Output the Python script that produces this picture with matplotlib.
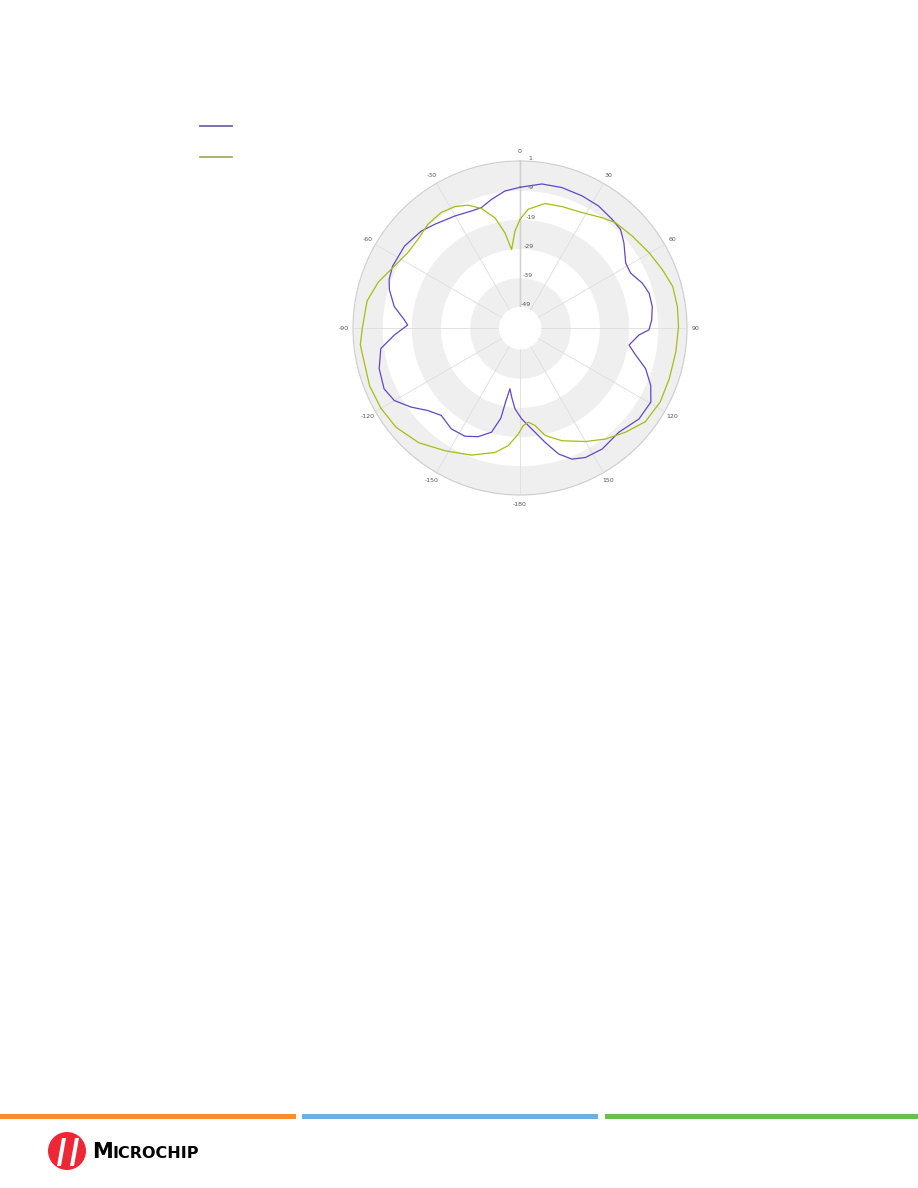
import numpy as np
import matplotlib
matplotlib.use("Agg")
import matplotlib.pyplot as plt
from matplotlib.patches import Ellipse, Rectangle, Polygon

# --- datos (angulo en grados, ganancia en dB) ---
angulos_morado = [0, 8.6, 16.6, 25.2, 32.8, 40.3, 45.6, 50.7, 58.4, 63.6, 69.8, 74.9, 80.8,
                  86.5, 90.8, 93.4, 98.9, 103.2, 107.9, 113.7, 119.5, 127.4, 136.5, 145.8,
                  153.2, 158.4, 163, 167.6, 173.4, 179, 183.6, 186.9, 189.4, 191, 192,
                  195.3, 201.1, 207, 214.3, 222, 228.2, 234, 240, 245.9, 253.9, 261.6,
                  266.8, 271.5, 274, 279.7, 286.3, 290.3, 295.8, 305.3, 314.4, 320.5,
                  329.7, 337.4, 342.2, 347.5, 353.7, 360]
db_morado = [-8.0, -6.3, -6.0, -6.2, -6.5, -7.4, -8.0, -10.2, -13.7, -13.9, -11.6, -10.4,
             -10.3, -11.0, -12.0, -15.4, -18.4, -15.5, -11.0, -7.3, -4.7, -4.9, -7.0, -6.1,
             -6.5, -7.9, -11.1, -16.1, -21.4, -25.1, -28.5, -32.4, -35.1, -30.5, -24.6,
             -19.2, -16.3, -14.6, -14.4, -15.9, -13.8, -10.1, -6.5, -5.2, -6.0, -8.0,
             -13.1, -17.7, -16.5, -12.5, -9.6, -8.4, -7.7, -7.7, -8.8, -10.2,
             -11.8, -12.8, -12.9, -11.1, -9.0, -8.0]

angulos_verde = [0, 4, 11.4, 19, 28.3, 36.7, 42.2, 50.7, 59.8, 67.7, 74.8, 82.2, 89.5,
                 98.7, 108.7, 117.8, 126.8, 134.6, 142.4, 150, 159.6, 166.8, 171.2, 174.9,
                 178, 180.9, 185.7, 191.4, 200.9, 211.2, 221.4, 231.3, 240, 249, 264, 270,
                 280, 288, 296.1, 303.8, 310.9, 318.3, 325.7, 331.7, 337.1, 342.1, 347.2,
                 351, 353.9, 357, 360]
db_verde = [-19.0, -15.4, -12.7, -12.2, -11.3, -9.1, -7.5, -6.5, -5.0, -3.5, -2.0, -1.8, -1.9,
            -2.2, -2.2, -1.9, -2.6, -5.4, -8.2, -11.3, -15.0, -18.4, -22.4, -23.8,
            -22.8, -19.9, -15.7, -12.7, -9.6, -7.0, -3.8, -1.8, -1.2, -1.0, -1.2, -2.2,
            -3.0, -5.2, -8.2, -9.9, -9.9, -8.7, -8.3, -9.0, -10.5, -13.2, -17.5,
            -23.2, -29.2, -23.0, -19.0]

anillos = [1, -9, -19, -29, -39, -49]
etiquetas_angulo = ['0', '30', '60', '90', '120', '150', '-180', '-150', '-120', '-90', '-60', '-30']

color_morado = '#6446c4'
color_verde = '#a6bd12'

fig = plt.figure(figsize=(9.18, 11.88), dpi=100)

# posicion del circulo: centro (520, 328), radio 167 px
cx, cy, R = 520, 328, 167
W, H = 918, 1188
ax = fig.add_axes([(cx - R) / W, (H - cy - R) / H, 2 * R / W, 2 * R / H], projection='polar')
ax.set_theta_zero_location('N')
ax.set_theta_direction(-1)
ax.set_rlim(-49, 1)
ax.set_rorigin(-56.2)

# bandas grises alternas
theta = np.linspace(0, 2 * np.pi, 400)
for r0, r1 in [(-9, 1), (-29, -19), (-49, -39)]:
    ax.fill_between(theta, r0, r1, color='#efefef', lw=0, zorder=0)

ax.set_thetagrids(np.arange(0, 360, 30), etiquetas_angulo, fontsize=4.5, color='#555555')
ax.set_rgrids(anillos, [str(a) for a in anillos], fontsize=4.5, color='#555555')
ax.set_rlabel_position(3)
ax.tick_params(axis='x', pad=-4)
ax.yaxis.grid(False)
ax.xaxis.grid(True, color='#dddddd', lw=0.6)
ax.spines['polar'].set_color('#cccccc')
ax.spines['polar'].set_linewidth(0.8)
ax.spines['inner'].set_linewidth(0)
ax.spines['inner'].set_edgecolor('none')
ax.plot([0, 0], [-49, 1], color='#999999', lw=0.9, zorder=1)

ax.plot(np.radians(angulos_morado), db_morado, color=color_morado, lw=0.9, zorder=3)
ax.plot(np.radians(angulos_verde), db_verde, color=color_verde, lw=0.9, zorder=3)

# leyenda (solo muestras de linea)
fig.add_artist(plt.Line2D([200 / W, 232 / W], [(H - 126) / H] * 2, color='#7563a8', lw=1.3))
fig.add_artist(plt.Line2D([200 / W, 232 / W], [(H - 157) / H] * 2, color='#a3ad62', lw=1.3))

# barras del pie de pagina
for x0, x1, c in [(0, 296, '#f68d2e'), (302, 598, '#6cb0e2'), (605, 918, '#6abf4b')]:
    fig.add_artist(Rectangle((x0 / W, (H - 1119) / H), (x1 - x0) / W, 5 / H,
                             transform=fig.transFigure, color=c, lw=0))

# logo Microchip
fig.add_artist(Ellipse((67 / W, (H - 1151) / H), 38 / W, 38 / H, transform=fig.transFigure,
                       color='#ee2737', lw=0))
for dx in [-7, 6]:
    pts = [((67 + dx - 3) / W, (H - 1166) / H), ((67 + dx + 1) / W, (H - 1166) / H),
           ((67 + dx + 6) / W, (H - 1138) / H), ((67 + dx + 2) / W, (H - 1138) / H)]
    fig.add_artist(Polygon(pts, closed=True, transform=fig.transFigure, color='white', lw=0))
fig.text(92 / W, (H - 1158) / H, 'M', fontsize=15, fontweight='bold', color='black',
         ha='left', va='baseline')
fig.text(112 / W, (H - 1158) / H, 'ICROCHIP', fontsize=11.5, fontweight='bold', color='black',
         ha='left', va='baseline')

fig.savefig('out.png', dpi=100)
